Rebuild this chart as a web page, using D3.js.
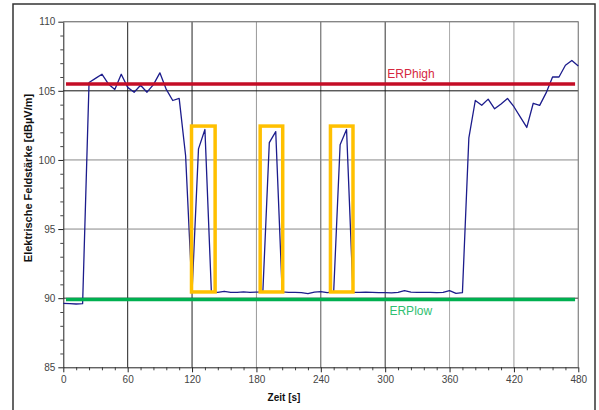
<!DOCTYPE html>
<html>
<head>
<meta charset="utf-8">
<script src="https://cdn.jsdelivr.net/npm/d3@7"></script>
<style>
  body { margin: 0; background: #fff; }
  svg { display: block; font-family: "Liberation Sans", Arial, sans-serif; }
</style>
</head>
<body>
<svg id="chart" width="599" height="410"></svg>
<script>
// Messwerte (alle 6 s)
const zeit = [0, 6, 12, 18, 24, 30, 36, 42, 48, 54, 60, 66, 72, 78, 84, 90, 96, 102, 108, 114,
  120, 126, 132, 138, 144, 150, 156, 162, 168, 174, 180, 186, 192, 198, 204, 210, 216, 222, 228, 234,
  240, 246, 252, 258, 264, 270, 276, 282, 288, 294, 300, 306, 312, 318, 324, 330, 336, 342, 348, 354,
  360, 366, 372, 378, 384, 390, 396, 402, 408, 414, 420, 426, 432, 438, 444, 450, 456, 462, 468, 474, 480];
const feldstaerke = [89.62, 89.60, 89.58, 89.60, 105.6, 105.9, 106.2, 105.5, 105.1, 106.2,
  105.25, 104.9, 105.4, 104.9, 105.45, 106.3, 105.1, 104.3, 104.45, 100.3,
  90.46, 100.8, 102.2, 90.46, 90.42, 90.5, 90.42, 90.42, 90.45, 90.42,
  90.44, 90.46, 101.25, 102.05, 90.45, 90.42, 90.42, 90.4, 90.33, 90.44,
  90.48, 90.4, 90.45, 101.1, 102.2, 90.42, 90.42, 90.43, 90.42, 90.4,
  90.4, 90.38, 90.42, 90.55, 90.44, 90.42, 90.42, 90.42, 90.4, 90.42,
  90.55, 90.35, 90.4, 101.6, 104.3, 103.95, 104.4, 103.7, 104.05, 104.45,
  103.85, 103.1, 102.35, 104.1, 103.95, 104.85, 106.0, 106.0, 106.85, 107.2, 106.8];

// Grenzwerte
const erpHigh = 105.5;
const erpLow = 89.9;
const limitSpan = [2.5, 477];

// markierte Spitzen
const boxStart = [119.5, 183.5, 249];
const boxEnd = [141.5, 204.5, 270];
const boxLevels = [90.45, 102.45];

// Achsen
const xTicks = [0, 60, 120, 180, 240, 300, 360, 420, 480];
const yTicks = [85, 90, 95, 100, 105, 110];

const svg = d3.select('#chart');
const plotLeft = 63.3, plotRight = 578.3, plotTop = 21.7, plotBottom = 367.3;

const x = d3.scaleLinear().domain([0, 480]).range([plotLeft, plotRight]);
const y = d3.scaleLinear().domain([85, 110]).range([plotBottom, plotTop]);

// Rahmen des Diagramms
svg.append('rect')
  .attr('x', 13).attr('y', 4)
  .attr('width', 582).attr('height', 430)
  .attr('fill', 'none')
  .attr('stroke', '#333')
  .attr('stroke-width', 1.5);

// Gitterlinien (Scan: unterschiedlich dunkel)
const vGridColor = { 60: '#222', 120: '#222', 180: '#999', 240: '#555', 300: '#333', 360: '#aaa', 420: '#999', 480: '#999' };
const hGridColor = { 90: '#333', 95: '#888', 100: '#888', 105: '#111', 110: '#666' };

svg.append('g').selectAll('line')
  .data(xTicks.filter(d => d > 0))
  .enter().append('line')
  .attr('x1', d => x(d)).attr('x2', d => x(d))
  .attr('y1', plotTop).attr('y2', plotBottom)
  .attr('stroke', d => vGridColor[d])
  .attr('stroke-width', 1);

svg.append('g').selectAll('line')
  .data(yTicks.filter(d => d > 85))
  .enter().append('line')
  .attr('x1', plotLeft).attr('x2', plotRight)
  .attr('y1', d => y(d)).attr('y2', d => y(d))
  .attr('stroke', d => hGridColor[d])
  .attr('stroke-width', 1);

// Achsen
const minorX = d3.range(0, 481, 12).filter(d => d % 60 !== 0);
const minorY = d3.range(85, 111, 1).filter(d => d % 5 !== 0);

svg.append('g')
  .attr('transform', `translate(0,${plotBottom})`)
  .call(d3.axisBottom(x).tickValues(minorX).tickSize(3).tickFormat(''))
  .call(g => g.select('.domain').remove())
  .selectAll('line').attr('stroke', '#444');

svg.append('g')
  .attr('transform', `translate(${plotLeft},0)`)
  .call(d3.axisLeft(y).tickValues(minorY).tickSize(3).tickFormat(''))
  .call(g => g.select('.domain').remove())
  .selectAll('line').attr('stroke', '#444');

const xAxis = svg.append('g')
  .attr('transform', `translate(0,${plotBottom})`)
  .call(d3.axisBottom(x).tickValues(xTicks).tickSize(5).tickPadding(4).tickSizeOuter(0));
xAxis.select('.domain').attr('stroke', '#222');
xAxis.selectAll('line').attr('stroke', '#222');
xAxis.selectAll('text').style('font-size', '10px').attr('fill', '#444');

const yAxis = svg.append('g')
  .attr('transform', `translate(${plotLeft},0)`)
  .call(d3.axisLeft(y).tickValues(yTicks).tickSize(5).tickPadding(3).tickSizeOuter(0));
yAxis.select('.domain').attr('stroke', '#222');
yAxis.selectAll('line').attr('stroke', '#222');
yAxis.selectAll('text').style('font-size', '10px').attr('fill', '#444');

// oberer und rechter Rand der Zeichenfläche
svg.append('path')
  .attr('d', `M${plotLeft},${plotTop}H${plotRight}V${plotBottom}`)
  .attr('fill', 'none')
  .attr('stroke', '#888');

// Messkurve
const line = d3.line()
  .x((d, i) => x(zeit[i]))
  .y(d => y(d));

svg.append('path')
  .datum(feldstaerke)
  .attr('d', line)
  .attr('fill', 'none')
  .attr('stroke', '#1c1c8c')
  .attr('stroke-width', 1.3)
  .attr('stroke-linejoin', 'round');

// Grenzlinien
svg.append('line')
  .attr('x1', x(limitSpan[0])).attr('x2', x(limitSpan[1]))
  .attr('y1', y(erpHigh)).attr('y2', y(erpHigh))
  .attr('stroke', '#c40d26')
  .attr('stroke-width', 3.5);

svg.append('line')
  .attr('x1', x(limitSpan[0])).attr('x2', x(limitSpan[1]))
  .attr('y1', y(erpLow)).attr('y2', y(erpLow))
  .attr('stroke', '#00b050')
  .attr('stroke-width', 3.5);

svg.append('text')
  .attr('x', x(302)).attr('y', y(erpHigh) - 6)
  .style('font-size', '12px')
  .attr('fill', '#d6283f')
  .text('ERPhigh');

svg.append('text')
  .attr('x', x(304)).attr('y', y(erpLow) + 15)
  .style('font-size', '12px')
  .attr('fill', '#2fbf72')
  .text('ERPlow');

// Markierungen
svg.append('g').selectAll('rect')
  .data(boxStart)
  .enter().append('rect')
  .attr('x', d => x(d))
  .attr('y', y(boxLevels[1]))
  .attr('width', (d, i) => x(boxEnd[i]) - x(d))
  .attr('height', y(boxLevels[0]) - y(boxLevels[1]))
  .attr('fill', 'none')
  .attr('stroke', '#ffc000')
  .attr('stroke-width', 3.5);

// Achsentitel
svg.append('text')
  .attr('x', 284).attr('y', 401)
  .attr('text-anchor', 'middle')
  .style('font', 'bold 10px "Liberation Sans", Arial, sans-serif')
  .attr('fill', '#111')
  .text('Zeit [s]');

svg.append('text')
  .attr('transform', 'translate(32,178) rotate(-90)')
  .attr('text-anchor', 'middle')
  .style('font', 'bold 11px "Liberation Sans", Arial, sans-serif')
  .attr('fill', '#111')
  .text('Elektrische Feldstärke [dBµV/m]');
</script>
</body>
</html>
